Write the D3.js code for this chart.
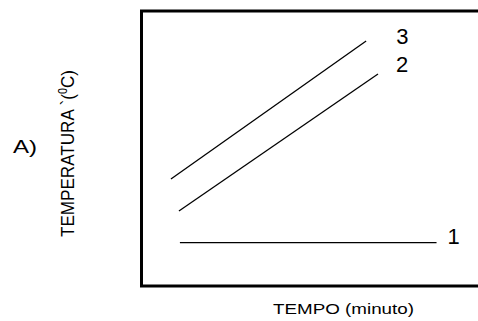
<!DOCTYPE html>
<html>
<head>
<meta charset="utf-8">
<script src="https://cdn.jsdelivr.net/npm/d3@7"></script>
<style>
    body { margin: 0; background: #fff; }
    text { font-family: "Liberation Sans", Arial, sans-serif; fill: #000; }
</style>
</head>
<body>
<svg id="chart" width="478" height="321"></svg>
<script>
// series names (the curve numbers) and their start / end points (tempo, temperatura)
const seriesNames = ['1', '2', '3'];
const startTempo = [1.20, 1.17, 0.92];
const startTemp = [1.58, 2.73, 3.89];
const endTempo = [9.22, 7.39, 7.02];
const endTemp = [1.58, 7.71, 8.91];

const xTitle = 'TEMPO (minuto)';
const panelLabel = 'A)';

const width = 478, height = 321;
let svg = d3.select('#chart');

// frame of the plot area (right side runs off the picture)
let x = d3.scaleLinear().domain([0, 10]).range([141.5, 461.5]);
let y = d3.scaleLinear().domain([0, 10]).range([286, 11]);

let series = seriesNames.map(function (name, i) {
    return {
        name: name,
        points: [[startTempo[i], startTemp[i]], [endTempo[i], endTemp[i]]]
    };
});

svg.append('rect')
    .attr('x', x(0))
    .attr('y', y(10))
    .attr('width', width + 20 - x(0))
    .attr('height', y(0) - y(10))
    .attr('fill', 'none')
    .attr('stroke', '#000')
    .attr('stroke-width', 3);

let line = d3.line().x(d => x(d[0])).y(d => y(d[1]));

svg.selectAll('path.curve')
    .data(series)
    .enter()
    .append('path')
    .classed('curve', true)
    .attr('d', d => line(d.points))
    .attr('fill', 'none')
    .attr('stroke', '#000')
    .attr('stroke-width', 1.3);

// curve numbers sit a bit right of each line end
const labelDx = { '1': 11, '2': 18, '3': 30 };
const labelDy = { '1': 1.5, '2': -2, '3': 3 };

svg.selectAll('text.curve-label')
    .data(series)
    .enter()
    .append('text')
    .classed('curve-label', true)
    .attr('x', d => x(d.points[1][0]) + labelDx[d.name])
    .attr('y', d => y(d.points[1][1]) + labelDy[d.name])
    .attr('font-size', 22)
    .text(d => d.name);

// axis titles
svg.append('text')
    .attr('x', 273)
    .attr('y', 314)
    .attr('font-size', 15)
    .attr('textLength', 141)
    .attr('lengthAdjust', 'spacingAndGlyphs')
    .text(xTitle);

let yTitle = svg.append('text')
    .attr('transform', 'translate(74,237) rotate(-90)')
    .attr('font-size', 19)
    .attr('textLength', 167)
    .attr('lengthAdjust', 'spacingAndGlyphs');
yTitle.append('tspan').text('TEMPERATURA `(');
yTitle.append('tspan').attr('font-size', 12).attr('dy', -7).text('0');
yTitle.append('tspan').attr('dy', 7).text('C)');

svg.append('text')
    .attr('x', 13)
    .attr('y', 153)
    .attr('font-size', 19)
    .attr('textLength', 24)
    .attr('lengthAdjust', 'spacingAndGlyphs')
    .text(panelLabel);
</script>
</body>
</html>
